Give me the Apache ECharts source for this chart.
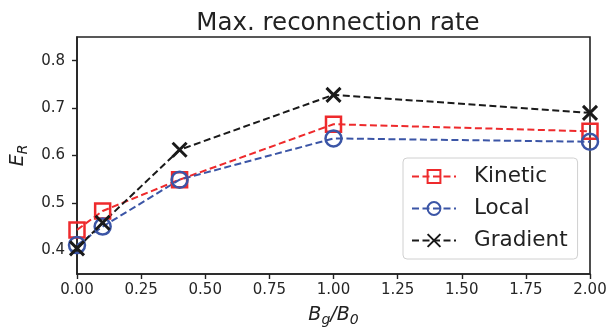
<!DOCTYPE html>
<html><head><meta charset="utf-8">
<script src="https://cdn.jsdelivr.net/npm/echarts@6/dist/echarts.min.js"></script>
<style>html,body{margin:0;padding:0;background:#fff}#c{width:615px;height:330px}</style>
</head><body><div id="c"></div>
<script>
const xValues = [0, 0.1, 0.4, 1.0, 2.0];
const kinetic = [0.443, 0.483, 0.549, 0.666, 0.651];
const local = [0.411, 0.450, 0.549, 0.636, 0.629];
const gradient = [0.404, 0.458, 0.612, 0.728, 0.690];
const yTicks = [0.4, 0.5, 0.6, 0.7, 0.8];
const seriesNames = ['Kinetic', 'Local', 'Gradient'];

const red = '#ee2a2c', blue = '#3b55a6', black = '#1a1a1a';
const xPath = 'path://M0,0L10,10M10,0L0,10';
function mk(name, vals, color, symbol, size) {
  return {
    name, type: 'line', data: xValues.map((x, i) => [x, vals[i]]),
    symbol, symbolSize: size, showAllSymbol: true, clip: true,
    lineStyle: { color, width: 2, type: [7, 3.5] },
    itemStyle: { color: symbol === xPath ? 'none' : 'rgba(255,255,255,0)', borderColor: color, borderWidth: symbol === xPath ? 3 : 2.5 },
    emphasis: { disabled: true }, animation: false
  };
}
const chart = echarts.init(document.getElementById('c'));
chart.setOption({
  animation: false,
  title: { text: 'Max. reconnection rate', left: 333, textAlign: 'center', top: 6,
    textStyle: { fontFamily: 'DejaVu Sans', fontSize: 24.5, fontWeight: 'normal', color: '#222' } },
  grid: { left: 77, right: 25, top: 37, bottom: 56, containLabel: false, outerBoundsMode: 'none',
    show: true, borderColor: '#222', borderWidth: 1.6, backgroundColor: 'transparent' },
  xAxis: { type: 'value', min: 0, max: 2, interval: 0.25,
    name: '{i|B}{s|g}{i|/B}{s|0}', nameLocation: 'middle', nameGap: 29,
    nameTextStyle: { rich: {
      i: { fontFamily: 'DejaVu Sans', fontStyle: 'italic', fontSize: 19, color: '#222' },
      s: { fontFamily: 'DejaVu Sans', fontStyle: 'italic', fontSize: 14, color: '#222', padding: [10, 0, 0, 0] } } },
    axisLine: { lineStyle: { color: '#222', width: 1.6 } },
    axisTick: { length: 5, lineStyle: { color: '#222', width: 1.4 } },
    axisLabel: { fontFamily: 'DejaVu Sans', fontSize: 15, color: '#262626', margin: 9, formatter: v => v.toFixed(2) },
    splitLine: { show: false } },
  yAxis: { type: 'value', min: 0.35, max: 0.85,
    name: '{i|E}{s|R}', nameLocation: 'middle', nameGap: 38, nameRotate: 90,
    nameTextStyle: { rich: {
      i: { fontFamily: 'DejaVu Sans', fontStyle: 'italic', fontSize: 19, color: '#222' },
      s: { fontFamily: 'DejaVu Sans', fontStyle: 'italic', fontSize: 14, color: '#222', padding: [10, 0, 0, 0] } } },
    axisLine: { show: true, lineStyle: { color: '#222', width: 1.6 } },
    axisTick: { show: true, length: 5, customValues: yTicks, lineStyle: { color: '#222', width: 1.4 } },
    axisLabel: { fontFamily: 'DejaVu Sans', fontSize: 15, color: '#262626', margin: 12, customValues: yTicks, formatter: v => v.toFixed(1) },
    splitLine: { show: false } },
  legend: { orient: 'vertical', left: 403, top: 158, data: seriesNames,
    backgroundColor: '#fff', borderColor: '#d0d0d0', borderWidth: 1, borderRadius: 4,
    padding: [7, 10, 7, 8], itemWidth: 44, itemHeight: 16, itemGap: 9,
    textStyle: { fontFamily: 'DejaVu Sans', fontSize: 21.5, lineHeight: 23, color: '#222', padding: [0, 0, 0, 13] } },
  series: [
    mk('Kinetic', kinetic, red, 'rect', 15),
    mk('Local', local, blue, 'circle', 16),
    mk('Gradient', gradient, black, xPath, 14)
  ]
});
</script></body></html>
